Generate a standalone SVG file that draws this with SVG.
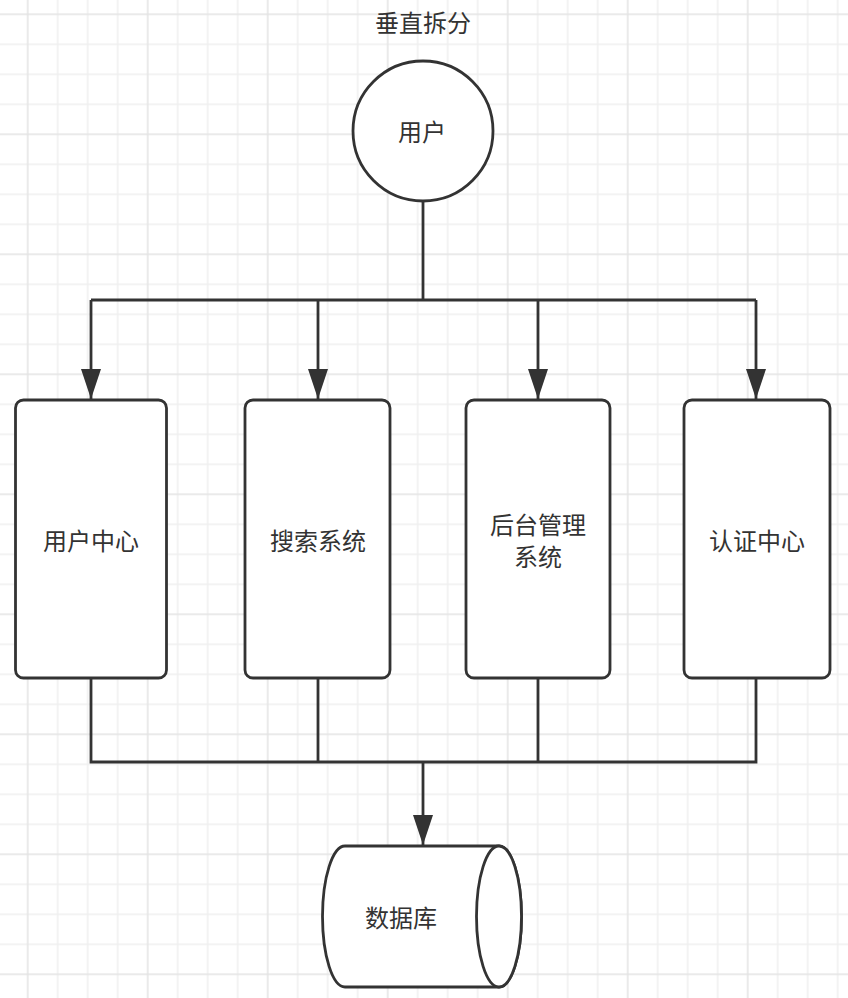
<svg xmlns="http://www.w3.org/2000/svg" width="848" height="998" viewBox="0 0 848 998">
<style>
.shape{fill:#ffffff;stroke:#333333;stroke-width:2.8}
.edge{fill:none;stroke:#333333;stroke-width:2.8}
.lbl{font-family:"Microsoft YaHei","Noto Sans CJK SC",sans-serif;font-size:24px;fill:#333333;text-anchor:middle;dominant-baseline:central}
</style>
<defs>
<pattern id="grid" patternUnits="userSpaceOnUse" x="12.7" y="-0.7" width="120" height="120">
<path d="M45,0V120M75,0V120M105,0V120M0,45H120M0,75H120M0,105H120" stroke="#f0f0f0" stroke-width="1.5" fill="none"/>
<path d="M15,0V120M0,15H120" stroke="#e4e4e4" stroke-width="1.5" fill="none"/>
</pattern>
<marker id="arr" markerUnits="userSpaceOnUse" markerWidth="32" markerHeight="22" refX="30" refY="10" orient="auto" viewBox="0 0 32 22">
<path d="M0,0L30,10L0,20Z" fill="#333333"/>
</marker>
</defs>
<rect width="848" height="998" fill="#ffffff"/>
<rect width="848" height="998" fill="url(#grid)"/>
<text class="lbl" x="423" y="21">垂直拆分</text>
<g id="connectors">
<path class="edge" d="M423,201V300"/>
<path class="edge" d="M91,300H756"/>
<path class="edge" d="M91,300V399" marker-end="url(#arr)"/>
<path class="edge" d="M318,300V399" marker-end="url(#arr)"/>
<path class="edge" d="M538,300V399" marker-end="url(#arr)"/>
<path class="edge" d="M756,300V399" marker-end="url(#arr)"/>
<path class="edge" d="M91,678V762H756V678"/>
<path class="edge" d="M318,678V762"/>
<path class="edge" d="M538,678V762"/>
<path class="edge" d="M423,762V845" marker-end="url(#arr)"/>
</g>
<g id="user">
<circle class="shape" cx="423" cy="131" r="70"/>
<text class="lbl" x="422" y="130">用户</text>
</g>
<g id="user-center">
<rect class="shape" x="15.5" y="400" width="151" height="278" rx="8"/>
<text class="lbl" x="91" y="539">用户中心</text>
</g>
<g id="search">
<rect class="shape" x="245" y="400" width="145" height="278" rx="8"/>
<text class="lbl" x="318" y="539">搜索系统</text>
</g>
<g id="admin">
<rect class="shape" x="466" y="400" width="144" height="278" rx="8"/>
<text class="lbl" x="538" y="523">后台管理</text>
<text class="lbl" x="538" y="555">系统</text>
</g>
<g id="auth">
<rect class="shape" x="684" y="400" width="146" height="278" rx="8"/>
<text class="lbl" x="757" y="539">认证中心</text>
</g>
<g id="database">
<path class="shape" d="M345,846H499A22.5,70.5 0 0 1 499,987H345A22.5,70.5 0 0 1 345,846Z"/>
<ellipse class="shape" cx="499" cy="916.5" rx="22.5" ry="70.5"/>
<text class="lbl" x="401" y="916">数据库</text>
</g>
</svg>
